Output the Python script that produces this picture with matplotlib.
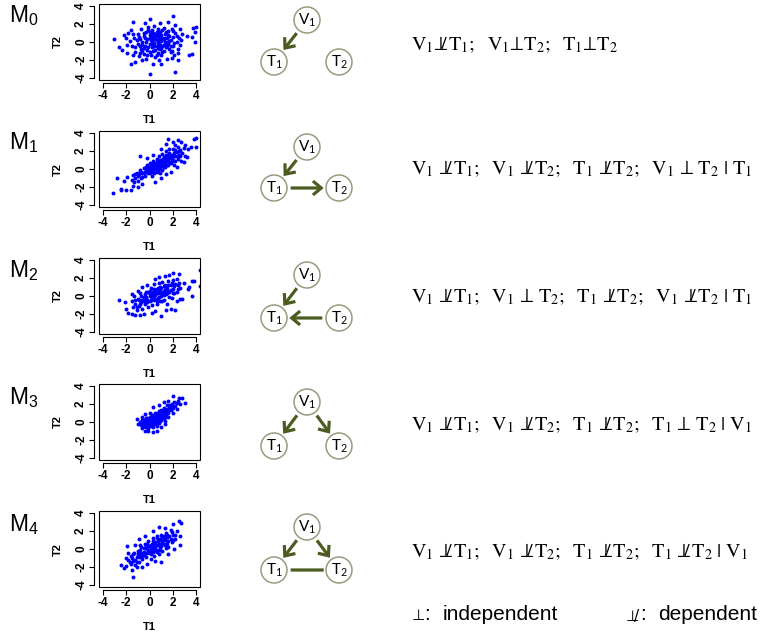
import matplotlib
matplotlib.use('Agg')
import matplotlib.pyplot as plt
from matplotlib.patches import Circle, FancyArrowPatch, Rectangle

plt.rcParams['mathtext.fontset'] = 'stix'
plt.rcParams['mathtext.default'] = 'rm'

# ---------------- data ----------------
models = ['M_0', 'M_1', 'M_2', 'M_3', 'M_4']

m0_points = [(-3.0,0.3),(-2.6,-0.6),(-1.6,-2.5),(0.0,-3.6),(2.2,-3.3),(2.0,2.9),(0.0,2.6),(-1.4,2.2),
    (3.7,1.6),(4.0,1.7),(3.9,0.0),(3.6,-1.3),(3.4,-1.5),(3.9,1.1),(3.6,0.6),(3.2,0.7),(1.0,-2.5),
    (0.3,-2.5),(-1.2,-2.2),(2.4,-2.0),(2.8,0.9),(2.6,1.5),(1.6,2.2),(0.9,2.1),(-0.4,2.1),(-1.8,1.0),
    (-2.2,0.8),(-1.9,-1.2),(-0.6,-2.0),
    (-1.5,-0.5),(-1.3,0.4),(-1.2,-1.1),(-1.0,0.9),(-1.0,-0.2),(-0.9,-1.6),(-0.8,0.3),(-0.7,1.4),
    (-0.7,-0.8),(-0.6,0.0),(-0.5,-1.3),(-0.5,0.7),(-0.4,-0.4),(-0.3,1.1),(-0.3,-1.9),(-0.2,0.3),
    (-0.2,-0.9),(-0.1,1.7),(0.0,-0.2),(0.0,0.8),(0.1,-1.4),(0.1,0.2),(0.2,-0.6),(0.2,1.3),(0.3,0.5),
    (0.3,-1.0),(0.4,-0.1),(0.4,1.8),(0.5,0.9),(0.5,-1.7),(0.6,0.2),(0.6,-0.5),(0.7,1.4),(0.7,-1.2),
    (0.8,-0.2),(0.8,0.6),(0.9,-0.8),(0.9,1.1),(1.0,0.1),(1.0,-1.5),(1.1,0.5),(1.1,-0.4),(1.2,1.6),
    (1.2,-1.0),(1.3,0.0),(1.3,0.9),(1.4,-0.6),(1.5,0.4),(1.5,-1.9),(1.6,1.2),(1.6,-0.2),(1.7,0.7),
    (1.8,-1.1),(1.8,0.2),(1.9,1.5),(2.0,-0.5),(2.0,0.6),(2.1,-1.4),(2.2,1.0),(2.3,0.0),(2.4,-0.8),
    (2.5,0.5),(-1.7,0.1),(-1.9,-0.3),(-2.0,0.4),(-1.4,-1.5),(-0.8,-0.5),(-0.4,0.5),(0.0,0.4),(0.2,0.0),
    (0.5,0.3),(0.7,-0.1),(0.9,0.4),(1.2,0.3),(0.4,-0.4),(-0.1,-0.6),(0.6,0.7),(1.4,-0.2),(-0.6,-0.3),
    (0.3,1.0),(1.0,-0.7),(1.7,-0.8),(-1.1,0.2),(2.6,-0.3),(2.7,0.2),(-2.3,-0.9),(-1.6,1.3),(0.8,-2.0),
    (1.9,-1.8),(2.2,1.9),
    (-0.9,0.6),(-0.5,1.0),(-0.2,-1.4),(0.1,0.6),(0.3,-0.3),(0.5,-0.9),(0.6,1.1),(0.8,0.2),(1.0,0.8),
    (1.1,-1.1),(1.3,0.5),(1.5,-0.5),(1.6,0.8),(1.8,-0.4),(2.0,1.2),(2.1,-0.1),(2.3,0.7),(-1.2,-0.6),
    (-0.6,-1.0),(0.0,-1.1),(0.4,0.3),(0.9,-0.3),(1.4,1.1),(-0.3,0.0),(0.2,0.8),(0.7,-0.7),(1.2,-0.3),
    (1.7,0.1),(-1.4,0.9),(2.4,-1.2),(-0.1,1.3),(0.6,-1.4),(1.1,1.3),(1.9,-1.0),(-0.8,-1.2),(0.0,1.1),
    (0.45,0.55),(0.85,0.95),(1.55,0.05),(-0.45,-0.65)]

m1_points = [(-3.1,-2.7),(-2.8,-1.0),(-2.4,-2.2),(-2.4,-2.4),(-2.0,-2.3),(-1.6,-2.3),(-1.4,-1.9),
    (-2.2,-1.3),(-1.9,-0.9),(-1.3,-1.5),(-1.0,-2.0),(-0.6,-1.7),(-0.8,1.5),(-0.2,1.2),(0.3,1.6),
    (1.0,2.2),(1.4,2.8),(1.6,3.3),(2.0,3.0),(2.4,3.2),(2.7,3.0),(2.2,2.7),(3.0,2.7),(3.3,2.2),
    (3.8,3.4),(4.0,3.5),(4.0,2.5),(3.5,2.5),(3.2,1.3),(2.9,0.8),(2.3,0.2),(1.8,-0.3),(1.4,-0.6),
    (1.0,-1.0),(0.5,-1.4),
    (-1.5,-1.2),(-1.4,-0.7),(-1.2,-1.0),(-1.1,-0.4),(-1.0,-1.3),(-0.9,-0.6),(-0.8,-0.1),(-0.7,-1.0),
    (-0.6,-0.4),(-0.5,0.1),(-0.4,-0.8),(-0.3,-0.2),(-0.2,0.4),(-0.1,-0.5),(0.0,0.0),(0.0,0.7),
    (0.1,-0.3),(0.2,0.3),(0.2,-0.8),(0.3,0.9),(0.4,0.1),(0.4,-0.4),(0.5,0.6),(0.5,0.0),(0.6,1.1),
    (0.6,-0.3),(0.7,0.4),(0.7,0.9),(0.8,0.0),(0.8,1.4),(0.9,0.6),(0.9,-0.5),(1.0,1.0),(1.0,0.3),
    (1.1,1.7),(1.1,-0.1),(1.2,0.8),(1.3,1.3),(1.3,0.2),(1.4,2.0),(1.5,0.9),(1.5,1.5),(1.6,0.4),
    (1.7,1.2),(1.7,2.2),(1.8,0.7),(1.9,1.6),(2.0,1.0),(2.0,2.2),(2.1,0.5),(2.2,1.4),(2.3,1.9),
    (2.4,1.1),(2.4,2.5),(2.5,1.6),(2.6,2.1),(2.7,0.9),(2.8,1.8),(2.9,2.4),(3.0,1.5),(0.3,0.5),
    (0.6,0.2),(0.9,0.2),(1.2,0.5),(-0.2,-0.1),(0.1,0.1),(-0.6,-0.9),(1.6,1.0),(0.4,0.7),(1.9,1.2),
    (-0.5,-0.5),(-0.3,0.2),(0.0,-0.4),(0.2,0.6),(0.3,-0.2),(0.5,0.3),(0.6,0.6),(0.7,-0.1),(0.8,0.7),
    (0.9,1.0),(1.0,0.5),(1.1,0.9),(1.2,1.3),(1.3,0.7),(1.4,1.1),(1.5,0.5),(1.6,1.4),(1.7,0.8),
    (1.8,1.5),(2.0,1.4),(2.1,1.8),(2.2,0.9),(2.3,1.5),(2.5,2.0),(-1.0,-0.8),(-0.8,-0.5),(-0.7,-0.3),
    (-0.4,-0.3),(-0.1,0.2),(0.1,0.4),(0.3,0.1),(0.4,0.4),(0.6,0.9),(0.8,0.4),(1.0,0.7),(1.2,0.2),
    (1.4,1.6),(1.9,0.9),(2.6,1.4),(-1.2,-0.6),(0.05,-0.15),(0.75,0.25),(1.15,1.15),(1.65,1.75),(2.2,2.1)]

m2_points = [(-2.6,-0.5),(-2.1,-0.7),(-2.0,-1.4),(-1.8,-1.9),(-1.5,-2.0),(-1.2,-2.1),(-0.8,-2.1),
    (-0.5,-2.0),(0.2,-1.9),(0.5,-1.7),(1.0,-2.2),(1.4,-1.6),(1.8,-1.5),(2.2,-1.6),(2.6,-0.3),
    (2.8,-0.3),(3.3,0.8),(3.6,1.7),(3.8,1.7),(3.4,1.0),(3.6,0.0),(4.3,2.9),(4.3,1.1),(2.5,2.5),
    (2.0,2.6),(1.7,2.3),(1.3,2.2),(0.8,2.1),(0.5,1.9),(-0.2,1.2),(-0.6,1.0),(-1.0,0.6),(-1.5,0.2),
    (2.9,1.4),(2.3,1.9),
    (-1.5,-0.6),(-1.4,-1.2),(-1.3,0.0),(-1.2,-0.9),(-1.1,-1.6),(-1.0,-0.3),(-0.9,-1.1),(-0.8,0.3),
    (-0.7,-0.7),(-0.6,-1.4),(-0.5,-0.1),(-0.4,-0.9),(-0.3,0.5),(-0.2,-0.4),(-0.1,-1.2),(0.0,0.2),
    (0.0,-0.6),(0.1,0.9),(0.2,-0.2),(0.2,-1.0),(0.3,0.5),(0.4,-0.5),(0.4,1.3),(0.5,0.1),(0.6,-0.9),
    (0.6,0.8),(0.7,-0.2),(0.8,1.4),(0.8,0.4),(0.9,-0.6),(1.0,0.9),(1.0,0.0),(1.1,1.6),(1.2,-0.4),
    (1.2,0.6),(1.3,1.2),(1.4,0.2),(1.5,-0.9),(1.5,0.9),(1.6,1.7),(1.7,0.4),(1.8,1.2),(1.9,-0.2),
    (2.0,0.8),(2.0,1.8),(2.1,0.3),(2.2,1.3),(2.3,-0.6),(2.4,0.8),(2.5,1.5),(0.1,0.3),(0.3,-0.1),
    (0.5,0.4),(0.7,0.3),(-0.3,-0.3),(0.9,0.5),(1.1,0.2),(0.0,0.0),(-0.6,-0.4),(1.3,0.7),
    (-1.2,-0.4),(-0.9,-0.5),(-0.7,0.0),(-0.5,-0.6),(-0.4,0.2),(-0.2,-0.7),(-0.1,0.5),(0.1,-0.4),
    (0.2,0.5),(0.3,0.0),(0.4,0.8),(0.5,-0.3),(0.6,0.3),(0.7,0.9),(0.8,-0.1),(0.9,1.0),(1.0,0.4),
    (1.1,-0.6),(1.2,1.1),(1.3,0.3),(1.4,0.9),(1.5,0.3),(1.6,1.2),(1.7,-0.1),(1.8,0.7),(1.9,1.5),
    (2.0,0.3),(2.1,1.1),(2.3,0.4),(2.4,1.2),(-0.8,-0.9),(-0.3,-0.1),(0.0,0.6),(0.35,0.25),(0.85,0.65),
    (1.25,0.15),(1.6,0.6),(-1.1,-1.2),(2.6,0.9),(0.65,-0.55)]

m3_points = [(-1.1,0.3),(-1.0,-0.2),(-0.8,0.0),(-0.6,-0.7),(-0.4,-1.0),(-0.1,-1.0),(0.3,-1.1),
    (0.6,-1.0),(1.0,-0.6),(1.3,-0.2),(1.6,0.6),(2.0,1.0),(2.3,1.5),(2.6,2.0),(2.8,2.7),(3.0,2.1),
    (2.5,2.7),(2.0,2.9),(1.6,2.4),(1.2,2.2),(0.8,1.9),(0.3,1.7),(0.0,1.0),(-0.4,0.9),(-0.6,0.6),
    (-0.7,-0.3),(-0.6,0.2),(-0.5,-0.5),(-0.4,0.0),(-0.3,-0.6),(-0.3,0.4),(-0.2,-0.2),(-0.1,0.3),
    (-0.1,-0.7),(0.0,0.0),(0.0,0.6),(0.1,-0.4),(0.1,0.3),(0.2,-0.1),(0.2,0.8),(0.3,0.2),(0.3,-0.6),
    (0.4,0.5),(0.4,-0.2),(0.5,0.0),(0.5,1.0),(0.6,0.4),(0.6,-0.4),(0.7,0.7),(0.7,0.1),(0.8,1.2),
    (0.8,-0.1),(0.9,0.5),(0.9,0.9),(1.0,0.2),(1.0,1.3),(1.1,0.7),(1.2,1.0),(1.2,0.4),(1.3,1.5),
    (1.4,0.8),(1.5,1.2),(1.5,1.9),(1.6,1.0),(1.7,1.6),(1.8,1.3),(1.9,2.0),(2.0,1.6),(2.1,2.2),
    (2.2,1.8),(2.4,2.4),(-0.2,0.1),(0.15,0.1),(0.35,0.35),(0.55,0.25),(0.75,0.45),(0.2,0.45),
    (-0.4,-0.3),(0.45,0.75),(1.1,1.1),(0.65,0.9),(0.0,-0.3),(1.3,0.1),
    (-0.5,0.2),(-0.4,-0.4),(-0.2,0.4),(-0.1,-0.2),(0.0,0.3),(0.1,0.0),(0.2,0.3),(0.25,-0.3),(0.3,0.6),
    (0.4,0.1),(0.45,0.4),(0.5,0.6),(0.55,-0.1),(0.6,0.7),(0.65,0.2),(0.7,0.5),(0.8,0.3),(0.85,0.8),
    (0.9,0.1),(0.95,0.6),(1.0,0.9),(1.05,0.4),(1.15,0.8),(1.25,1.2),(1.35,0.6),(1.45,1.1),(1.55,1.5),
    (1.65,1.3),(1.75,1.9),(1.85,1.6),(-0.6,-0.1),(-0.3,-0.1),(0.05,-0.15),(0.35,0.0),(0.75,1.0),
    (1.0,0.7),(1.2,1.6),(1.9,1.7),(2.3,2.1),(-0.15,-0.45)]

m4_points = [(-2.4,-1.8),(-2.2,-2.1),(-2.0,-1.9),(-1.5,-2.3),(-1.4,-3.1),(-1.1,-2.0),(-0.6,-2.0),
    (-0.2,-1.7),(0.5,-1.3),(1.0,-1.5),(1.6,-0.6),(2.1,0.0),(2.6,0.5),(2.6,1.5),(2.5,3.1),(2.7,2.9),
    (2.0,2.8),(1.3,2.3),(0.8,2.5),(0.3,2.0),(-0.4,1.4),(-0.9,1.1),(-1.2,0.4),(-1.9,0.3),(-1.8,-0.4),
    (-2.0,-1.0),
    (-1.8,-1.2),(-1.6,-1.7),(-1.6,-0.8),(-1.4,-1.3),(-1.3,-0.4),(-1.2,-1.8),(-1.1,-0.9),(-1.0,-0.2),
    (-0.9,-1.4),(-0.8,-0.6),(-0.7,0.2),(-0.6,-1.1),(-0.5,-0.3),(-0.4,0.6),(-0.3,-0.9),(-0.2,0.0),
    (-0.1,0.9),(0.0,-0.5),(0.0,0.3),(0.1,-1.1),(0.2,0.6),(0.2,-0.2),(0.3,1.2),(0.4,0.1),(0.4,-0.8),
    (0.5,0.8),(0.6,-0.3),(0.6,1.5),(0.7,0.4),(0.8,-0.6),(0.8,1.0),(0.9,0.2),(1.0,1.6),(1.0,0.6),
    (1.1,-0.2),(1.2,1.1),(1.3,0.4),(1.4,1.8),(1.5,0.9),(1.6,0.2),(1.7,1.4),(1.8,2.1),(1.9,0.8),
    (2.0,1.6),(2.2,1.1),(2.3,2.0),(-0.3,0.2),(0.1,0.1),(0.5,0.3),(0.7,0.9),(-0.8,-0.1),(-0.1,-0.3),
    (0.3,0.4),(1.1,0.9),(-1.4,-0.6),(0.9,-0.1),(-0.5,-0.7),(1.5,1.3),
    (-1.5,-1.0),(-1.2,-1.2),(-1.0,-0.6),(-0.9,-0.9),(-0.7,-0.4),(-0.6,-0.8),(-0.5,0.1),(-0.4,-0.5),
    (-0.3,0.4),(-0.2,-0.4),(-0.1,0.3),(0.0,-0.1),(0.1,0.5),(0.2,0.2),(0.3,-0.3),(0.4,0.6),(0.5,0.0),
    (0.6,0.5),(0.7,-0.1),(0.8,0.6),(0.9,1.1),(1.0,0.3),(1.1,1.3),(1.2,0.6),(1.3,1.0),(1.4,0.1),
    (1.5,1.6),(1.6,0.9),(1.8,1.1),(2.0,1.0),(-1.7,-1.5),(-0.8,0.4),(-0.2,0.6),(0.3,0.9),(0.6,1.2),
    (1.2,1.5),(1.9,1.9),(2.2,1.6),(-1.1,-1.5),(0.15,-0.6),(0.55,-0.2),(1.45,0.6)]

scatter_data = [m0_points, m1_points, m2_points, m3_points, m4_points]
axis_ticks = [-4, -2, 0, 2, 4]
tick_labels = ['-4', '-2', '0', '2', '4']
x_label = 'T1'
y_label = 'T2'

# graph edges per model: (from, to, directed)
edges = [
    [('V', 'T1', True)],
    [('V', 'T1', True), ('T1', 'T2', True)],
    [('V', 'T1', True), ('T2', 'T1', True)],
    [('V', 'T1', True), ('V', 'T2', True)],
    [('V', 'T1', True), ('V', 'T2', True), ('T1', 'T2', False)],
]
node_labels = {'V': r'$\mathregular{V_1}$', 'T1': r'$\mathregular{T_1}$', 'T2': r'$\mathregular{T_2}$'}

IND = '\u22a5'                          # independent
DEP = '\u22a5' + r'\!\!\!/\,'           # dependent (slashed)
S = r'\ '
relations = [
    '$V_1' + DEP + 'T_1;' + S + S + 'V_1' + IND + 'T_2;' + S + S + 'T_1' + IND + 'T_2$',
    '$V_1' + S + DEP + 'T_1;' + S + S + 'V_1' + S + DEP + 'T_2;' + S + S + 'T_1' + S + DEP
        + 'T_2;' + S + S + 'V_1' + S + IND + S + 'T_2' + S + '|' + S + 'T_1$',
    '$V_1' + S + DEP + 'T_1;' + S + S + 'V_1' + S + IND + S + 'T_2;' + S + S + 'T_1' + S + DEP
        + 'T_2;' + S + S + 'V_1' + S + DEP + 'T_2' + S + '|' + S + 'T_1$',
    '$V_1' + S + DEP + 'T_1;' + S + S + 'V_1' + S + DEP + 'T_2;' + S + S + 'T_1' + S + DEP
        + 'T_2;' + S + S + 'T_1' + S + IND + S + 'T_2' + S + '|' + S + 'V_1$',
    '$V_1' + S + DEP + 'T_1;' + S + S + 'V_1' + S + DEP + 'T_2;' + S + S + 'T_1' + S + DEP
        + 'T_2;' + S + S + 'T_1' + S + DEP + 'T_2' + S + '|' + S + 'V_1$',
]

# ---------------- layout (pixels) ----------------
W, H = 765, 637
row_top = [4, 131, 258, 384, 511]     # top of scatter boxes
box_left, box_w, box_h = 99, 101, 76
label_y = [16, 143, 271, 398, 525]
v_y = [20, 147, 275, 402, 527]
t_y = [62, 188, 318, 446, 570]
eq_y = [45, 169, 297, 425, 552]
node_x = {'V': 307, 'T1': 274, 'T2': 339}
R = 13
arrow_col = '#4c5c20'
ring_col = '#9a9a80'

fig = plt.figure(figsize=(W / 100, H / 100), dpi=100)
bg = fig.add_axes([0, 0, 1, 1])
bg.set_xlim(0, W)
bg.set_ylim(H, 0)
bg.axis('off')

for i, pts in enumerate(scatter_data):
    top = row_top[i]
    a = fig.add_axes([box_left / W, 1 - (top + box_h) / H, box_w / W, box_h / H])
    xs = [p[0] for p in pts]
    ys = [p[1] for p in pts]
    a.scatter(xs, ys, s=8, c='#0000ff', linewidths=0, zorder=3)
    for s in ['top', 'right']:
        a.spines[s].set_visible(False)
    a.spines['left'].set_position(('outward', 3.6))
    a.spines['bottom'].set_position(('outward', 2))
    a.set_xlim(-4.3, 4.3)
    a.set_ylim(-4.25, 4.25)
    a.spines['left'].set_bounds(-4, 4)
    a.spines['bottom'].set_bounds(-4, 4)
    for s in ['left', 'bottom']:
        a.spines[s].set_linewidth(0.8)
    a.tick_params(length=3.5, width=0.8, pad=1.5, labelsize=8.5)
    a.set_xticks(axis_ticks)
    a.set_yticks(axis_ticks)
    a.set_xticklabels(tick_labels, fontsize=8.5, fontweight='bold', family='Liberation Sans')
    a.set_yticklabels(tick_labels, fontsize=8.5, fontweight='bold', family='Liberation Sans',
                      rotation=90, va='center')
    a.add_patch(Rectangle((0, 0), 1, 1, transform=a.transAxes, fill=False, lw=0.8,
                          ec='black', clip_on=False, zorder=4))
    # axis titles
    bg.text(149, top + box_h + 40, x_label, fontsize=8, fontweight='bold',
            family='Liberation Sans', ha='center', va='center')
    bg.text(58, top + box_h / 2, y_label, fontsize=8, fontweight='bold',
            family='Liberation Sans', ha='center', va='center', rotation=90)

    # model label
    bg.text(9, label_y[i], r'$\mathregular{' + models[i] + '}$', fontsize=16.5,
            family='Liberation Sans', ha='left', va='center')

    # graph
    pos = {'V': (node_x['V'], v_y[i]), 'T1': (node_x['T1'], t_y[i]), 'T2': (node_x['T2'], t_y[i])}
    for (u, v, directed) in edges[i]:
        style = '->,head_length=0.6,head_width=0.5' if directed else '-'
        ar = FancyArrowPatch(pos[u], pos[v], arrowstyle=style, mutation_scale=10,
                             lw=2.3, color=arrow_col, shrinkA=12, shrinkB=11,
                             capstyle='butt', joinstyle='miter', zorder=2)
        bg.add_patch(ar)
    for k, (x, y) in pos.items():
        bg.add_patch(Circle((x, y), R, fc='white', ec=ring_col, lw=1.1, zorder=3))
        bg.text(x, y + 0.5, node_labels[k], fontsize=11, family='Lato',
                ha='center', va='center', zorder=4)

    # relations text
    bg.text(411, eq_y[i], relations[i], fontsize=14.5, ha='left', va='center')

# legend
leg_y = 615
bg.text(412, leg_y, '\u22a5', fontsize=11, family='DejaVu Sans', ha='left', va='center')
bg.text(424, leg_y, ':', fontsize=15, family='Liberation Sans', ha='left', va='center')
bg.text(443, leg_y, 'independent', fontsize=15, family='Liberation Sans', ha='left', va='center')
bg.text(625, leg_y, '$\u22a5\\!\\!/$', fontsize=11, math_fontfamily='dejavusans',
        ha='left', va='center')
bg.text(640, leg_y, ':', fontsize=15, family='Liberation Sans', ha='left', va='center')
bg.text(658, leg_y, 'dependent', fontsize=15, family='Liberation Sans', ha='left', va='center')

fig.savefig('out.png', dpi=100)
